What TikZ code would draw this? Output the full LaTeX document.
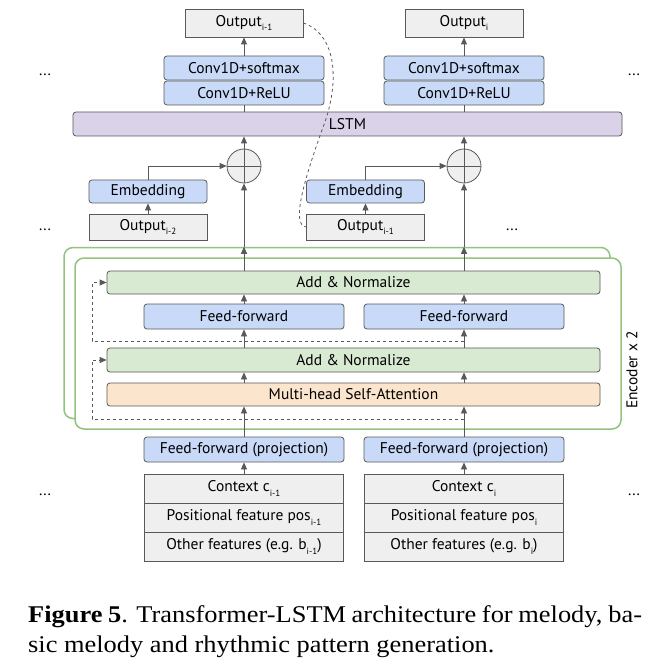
\documentclass[tikz,border=0pt]{standalone}
\usepackage{fontspec}
\setmainfont{PT Sans}
\newfontfamily\capfont{Liberation Serif}
\usetikzlibrary{arrows.meta,positioning}

\definecolor{linegray}{HTML}{595959}
\definecolor{boxgray}{HTML}{EFEFEF}
\definecolor{boxblue}{HTML}{C9DAF8}
\definecolor{boxpurple}{HTML}{D9D2E9}
\definecolor{boxgreen}{HTML}{D9EAD3}
\definecolor{boxorange}{HTML}{FCE5CD}
\definecolor{encgreen}{HTML}{93C47D}

\newcommand{\idx}[1]{\raisebox{-0.55ex}{\fontsize{9}{9}\selectfont #1}}

\tikzset{
  box/.style={draw=linegray, line width=0.8pt, inner sep=0pt, font=\fontsize{15.5}{18}\selectfont},
  grbox/.style={box, fill=boxgray},
  blbox/.style={box, fill=boxblue, rounded corners=3pt},
  feat/.style={grbox, minimum width=199, minimum height=29},
  plus/.style={circle, draw=linegray, line width=0.8pt, fill=boxgray, minimum size=34, inner sep=0pt},
  enc/.style={draw=encgreen, line width=1.5pt, rounded corners=9pt, minimum width=546, minimum height=171},
  flow/.style={draw=linegray, line width=0.8pt, ->},
  skip/.style={draw=linegray, line width=0.8pt, dashed, ->}
}

\begin{document}
\begin{tikzpicture}[x=1pt, y=-1pt, >={Triangle[width=6pt,length=7pt]}]
\useasboundingbox (0,0) rectangle (668,668);

\node[enc] (encback) at (337,333) {};
\node[enc, fill=white] (encfront) at (348,343.5) {};
\node[rotate=90, font=\fontsize{15.5}{18}\selectfont] (enclabel) at (632,370) {Encoder x 2};

\node[box, fill=boxpurple, rounded corners=3pt, minimum width=549, minimum height=24] (lstm) at (347.5,124) {LSTM};
\node[box, fill=boxgreen, rounded corners=3pt, minimum width=493, minimum height=23] (addtop) at (353.5,282.5) {Add \& Normalize};
\node[box, fill=boxgreen, rounded corners=3pt, minimum width=493, minimum height=24] (addbot) at (353.5,360) {Add \& Normalize};
\node[box, fill=boxorange, rounded corners=3pt, minimum width=493, minimum height=23] (mha) at (353.5,394.5) {Multi-head Self-Attention};

\foreach \c/\x/\n in {A/244/{i-1}, B/464/i} {
  \node[grbox, minimum width=118, minimum height=28] (out\c) at (\x,23) {Output\idx{\n}};
  \node[blbox, minimum width=160, minimum height=24] (soft\c) at (\x,68) {Conv1D+softmax};
  \node[blbox, minimum width=160, minimum height=24] (relu\c) at (\x,93) {Conv1D+ReLU};
  \node[plus] (plus\c) at (\x,166) {};
  \node[blbox, minimum width=200, minimum height=25] (ff\c) at (\x,316.5) {Feed-forward};
  \node[blbox, minimum width=200, minimum height=25] (proj\c) at (\x,449.5) {Feed-forward (projection)};
  \node[feat] (ctx\c) at (\x,488.5) {Context c\idx{\n}};
  \node[feat] (pos\c) at (\x,517.5) {Positional feature pos\idx{\n}};
  \node[feat] (oth\c) at (\x,546.5) {Other features (e.g. b\idx{\n})};
}

\foreach \c/\x/\n in {A/148/{i-2}, B/365.5/{i-1}} {
  \node[blbox, minimum width=118, minimum height=23] (emb\c) at (\x,191.5) {Embedding};
  \node[grbox, minimum width=118, minimum height=26] (prev\c) at (\x,227) {Output\idx{\n}};
}

\foreach \x/\y [count=\k] in {45/75, 634/75, 45/230, 512/230, 45/495, 634/495}
  \node[font=\fontsize{15.5}{18}\selectfont] (dots\k) at (\x,\y) {...};

\foreach \c in {A, B} {
  \draw[flow] (ctx\c.north) -- (proj\c.south);
  \draw[flow] (proj\c.north) -- (proj\c.north |- mha.south);
  \draw[flow] (proj\c.north |- mha.north) -- (proj\c.north |- addbot.south);
  \draw[flow] (proj\c.north |- addbot.north) -- (ff\c.south);
  \draw[flow] (ff\c.north) -- (ff\c.north |- addtop.south);
  \draw[flow] (ff\c.north |- addtop.north) -- (ff\c.north |- encback.north);
  \draw[flow] (ff\c.north |- encback.north) -- (plus\c.south);
  \draw[flow] (plus\c.north) -- (plus\c.north |- lstm.south);
  \draw[draw=linegray, line width=0.8pt] (plus\c.north |- lstm.north) -- (relu\c.south);
  \draw[flow] (soft\c.north) -- (out\c.south);
  \draw[draw=linegray, line width=0.8pt] (plus\c.north) -- (plus\c.south) (plus\c.west) -- (plus\c.east);
  \draw[flow] (prev\c.north) -- (emb\c.south);
  \draw[flow] (emb\c.north) |- (plus\c.west);
}

\coordinate (resbot) at (92,419);
\coordinate (restop) at (92,341);
\draw[skip] (ffB.north |- resbot) -- (resbot) |- (addbot.west);
\draw[skip] (ffB.north |- restop) -- (restop) |- (addtop.west);

\draw[draw=linegray, line width=0.8pt, dashed] (outA.east) .. controls (338,35) and (340,85) .. (322,130)
  .. controls (306,175) and (290,225) .. (prevB.west);

\node[anchor=base west, inner sep=0pt] (caption) at (28,622) {\scalebox{1.1}[1]{\begin{minipage}[t]{558pt}
  \capfont\fontsize{24}{30}\selectfont
  \textbf{Figure 5}. Transformer-LSTM architecture for melody, ba-\linebreak
  sic melody and rhythmic pattern generation.
\end{minipage}}};
\end{tikzpicture}
\end{document}
